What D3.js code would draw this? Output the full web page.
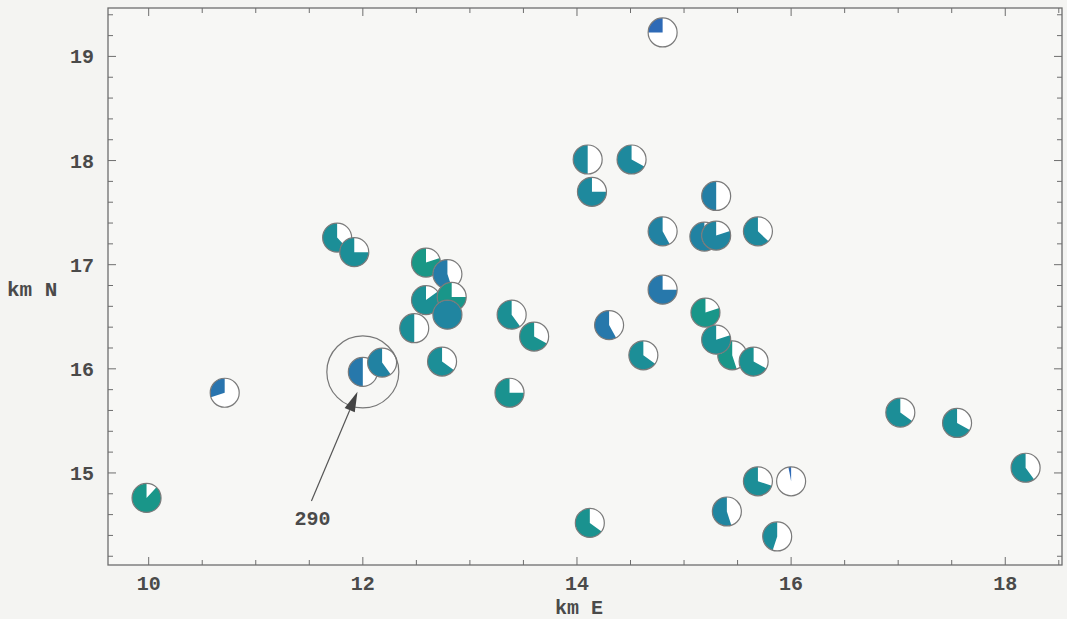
<!DOCTYPE html>
<html>
<head>
<meta charset="utf-8">
<script src="https://cdn.jsdelivr.net/npm/d3@7"></script>
<style>
  body { margin: 0; background: #f4f4f2; }
  svg { display: block; }
</style>
</head>
<body>
<svg id="chart" width="1067" height="619"></svg>
<script>
// Event locations (km east / km north), filled share of each pie glyph,
// and a tone value (0 = green, 1 = blue) for the wedge colour.
const eastKm  = [14.80, 14.10, 14.51, 14.14, 15.30, 14.80, 15.19, 15.30, 15.69,
                 11.76, 11.92, 12.59, 12.79, 12.59, 12.83, 12.79, 12.48, 13.39, 13.60,
                 14.80, 14.30, 15.20, 15.45, 15.30, 15.65, 14.62, 12.74, 12.00, 12.18,
                 10.71,  9.98, 13.37, 14.12, 15.40, 15.69, 16.00, 15.87, 17.02, 17.55, 18.19];
const northKm = [19.23, 18.01, 18.01, 17.70, 17.66, 17.32, 17.27, 17.28, 17.32,
                 17.26, 17.12, 17.02, 16.91, 16.66, 16.69, 16.52, 16.39, 16.52, 16.31,
                 16.76, 16.42, 16.54, 16.13, 16.28, 16.07, 16.13, 16.07, 15.97, 16.06,
                 15.77, 14.76, 15.77, 14.52, 14.63, 14.92, 14.92, 14.39, 15.58, 15.48, 15.05];
const filledShare = [0.25, 0.50, 0.67, 0.75, 0.50, 0.58, 0.90, 0.80, 0.63,
                     0.62, 0.75, 0.80, 0.55, 0.85, 0.75, 1.00, 0.50, 0.60, 0.67,
                     0.75, 0.58, 0.80, 0.55, 0.80, 0.67, 0.65, 0.65, 0.50, 0.60,
                     0.30, 0.88, 0.75, 0.65, 0.55, 0.70, 0.03, 0.45, 0.65, 0.67, 0.60];
const tone = [1.00, 0.55, 0.55, 0.55, 0.70, 0.65, 0.65, 0.60, 0.55,
              0.45, 0.45, 0.15, 0.75, 0.40, 0.20, 0.60, 0.45, 0.40, 0.30,
              0.80, 0.80, 0.20, 0.20, 0.40, 0.35, 0.45, 0.45, 0.80, 0.65,
              0.85, 0.20, 0.30, 0.30, 0.60, 0.45, 1.00, 0.50, 0.45, 0.45, 0.45];

const xTickValues = [10, 12, 14, 16, 18];
const yTickValues = [15, 16, 17, 18, 19];
const xAxisTitle = "km E";
const yAxisTitle = "km N";

// Highlighted event and its callout label
const calloutEvent = 27;
const calloutLabel = "290";
const calloutLabelAt = [11.53, 14.57];
const calloutArrowFrom = [11.52, 14.73];
const calloutArrowTo = [11.95, 15.78];

const svg = d3.select("#chart");
const frame = { left: 108, right: 1062, top: 8, bottom: 565 };

const x = d3.scaleLinear().domain([9.62, 18.53]).range([frame.left, frame.right]);
const y = d3.scaleLinear().domain([14.116, 19.465]).range([frame.bottom, frame.top]);
const toneColor = d3.scaleLinear().domain([0, 0.5, 1])
  .range(["#179c7e", "#1c8c9a", "#2e6ab6"]);

const axisColor = "#6e6e6e";
const textColor = "#4a4a4a";
const font = "'Liberation Mono', 'DejaVu Sans Mono', monospace";

// Frame box
svg.append("rect")
  .attr("x", frame.left).attr("y", frame.top)
  .attr("width", frame.right - frame.left).attr("height", frame.bottom - frame.top)
  .attr("fill", "#f7f7f5").attr("stroke", axisColor).attr("stroke-width", 1.3);

// Inward ticks on all four sides
const xMinor = d3.range(10, 18.51, 0.5);
const yMinor = d3.range(14.2, 19.41, 0.2).map(v => +v.toFixed(1));
const isMajor = (v, list) => list.some(t => Math.abs(t - v) < 1e-6);

const tickG = svg.append("g").attr("stroke", axisColor).attr("stroke-width", 1);
xMinor.forEach(v => {
  const len = isMajor(v, xTickValues) ? 8 : 5;
  tickG.append("line").attr("x1", x(v)).attr("x2", x(v))
    .attr("y1", frame.bottom).attr("y2", frame.bottom - len);
  tickG.append("line").attr("x1", x(v)).attr("x2", x(v))
    .attr("y1", frame.top).attr("y2", frame.top + len);
});
yMinor.forEach(v => {
  const len = isMajor(v, yTickValues) ? 8 : 5;
  tickG.append("line").attr("y1", y(v)).attr("y2", y(v))
    .attr("x1", frame.left).attr("x2", frame.left + len);
  tickG.append("line").attr("y1", y(v)).attr("y2", y(v))
    .attr("x1", frame.right).attr("x2", frame.right - len);
});

// Tick labels
svg.append("g").selectAll("text").data(xTickValues).join("text")
  .attr("x", d => x(d)).attr("y", 590)
  .attr("text-anchor", "middle")
  .attr("font-family", font).attr("font-weight", "bold").attr("font-size", 20)
  .attr("fill", textColor).text(d => d);
svg.append("g").selectAll("text").data(yTickValues).join("text")
  .attr("x", 94).attr("y", d => y(d)).attr("dy", "0.35em")
  .attr("text-anchor", "end")
  .attr("font-family", font).attr("font-weight", "bold").attr("font-size", 20)
  .attr("fill", textColor).text(d => d);

// Axis titles
svg.append("text").attr("x", (frame.left + frame.right) / 2 - 6).attr("y", 614)
  .attr("text-anchor", "middle")
  .attr("font-family", font).attr("font-weight", "bold").attr("font-size", 20)
  .attr("fill", textColor).text(xAxisTitle);
svg.append("text").attr("x", 7).attr("y", 296)
  .attr("font-family", font).attr("font-weight", "bold").attr("font-size", 21)
  .attr("fill", textColor).text(yAxisTitle);

// Pie glyphs: share filled counter-clockwise from twelve o'clock
const events = eastKm.map((e, i) => ({ e, n: northKm[i], share: filledShare[i], tone: tone[i] }));
const r = 14.5;
const wedge = d3.arc().innerRadius(0).outerRadius(r);

const glyphs = svg.append("g").selectAll("g").data(events).join("g")
  .attr("transform", d => `translate(${x(d.e)},${y(d.n)})`);
glyphs.append("circle").attr("r", r).attr("fill", "#ffffff");
glyphs.append("path")
  .attr("d", d => wedge({ startAngle: -d.share * 2 * Math.PI, endAngle: 0 }))
  .attr("fill", d => toneColor(d.tone));
glyphs.append("circle").attr("r", r).attr("fill", "none")
  .attr("stroke", "#7a7a7a").attr("stroke-width", 1.2);

// Callout: ring around the highlighted event, arrow and label
const hl = events[calloutEvent];
svg.append("circle").attr("cx", x(hl.e)).attr("cy", y(hl.n)).attr("r", 36)
  .attr("fill", "none").attr("stroke", "#777").attr("stroke-width", 1.2);

const ax0 = x(calloutArrowFrom[0]), ay0 = y(calloutArrowFrom[1]);
const ax1 = x(calloutArrowTo[0]), ay1 = y(calloutArrowTo[1]);
const ang = Math.atan2(ay1 - ay0, ax1 - ax0);
const headLen = 20, headHalf = 5.5;
const bx = ax1 - headLen * Math.cos(ang), by = ay1 - headLen * Math.sin(ang);
svg.append("line").attr("x1", ax0).attr("y1", ay0).attr("x2", bx).attr("y2", by)
  .attr("stroke", "#555").attr("stroke-width", 1.2);
svg.append("polygon")
  .attr("points", [
    [ax1, ay1],
    [bx + headHalf * Math.sin(ang), by - headHalf * Math.cos(ang)],
    [bx - headHalf * Math.sin(ang), by + headHalf * Math.cos(ang)]
  ].map(p => p.join(",")).join(" "))
  .attr("fill", "#444");

svg.append("text").attr("x", x(calloutLabelAt[0])).attr("y", y(calloutLabelAt[1]))
  .attr("dy", "0.35em").attr("text-anchor", "middle")
  .attr("font-family", font).attr("font-weight", "bold").attr("font-size", 20)
  .attr("fill", textColor).text(calloutLabel);
</script>
</body>
</html>
